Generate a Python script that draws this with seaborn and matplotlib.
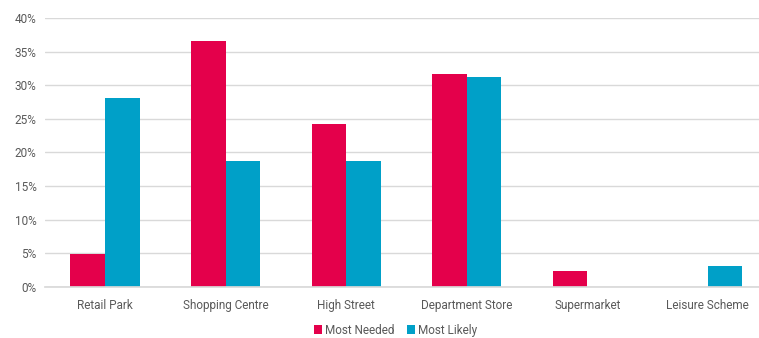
import matplotlib
matplotlib.use('Agg')
import matplotlib.pyplot as plt
import pandas as pd
import seaborn as sns
from matplotlib.ticker import FuncFormatter

categories = ['Retail Park', 'Shopping Centre', 'High Street', 'Department Store', 'Supermarket', 'Leisure Scheme']
most_needed = [4.9, 36.6, 24.3, 31.7, 2.4, 0.0]
most_likely = [28.1, 18.7, 18.7, 31.2, 0.0, 3.1]
series_names = ['Most Needed', 'Most Likely']
palette = ['#E4004B', '#00A0C8']

df = pd.DataFrame({
    'category': categories * 2,
    'series': [series_names[0]] * len(categories) + [series_names[1]] * len(categories),
    'value': most_needed + most_likely,
})

sns.set_theme(style='white')
plt.rcParams['font.family'] = ['Roboto', 'DejaVu Sans']
text_color = '#595959'

fig = plt.figure(figsize=(7.59, 3.38), dpi=100)
ax = fig.add_axes([0.059, 0.151, 0.953, 0.796])

sns.barplot(data=df, x='category', y='value', hue='series', palette=palette,
            width=0.575, ax=ax, saturation=1, legend=True, linewidth=0)

ax.set_ylim(0, 40)
ax.set_yticks(range(0, 41, 5))
ax.yaxis.set_major_formatter(FuncFormatter(lambda v, p: f'{int(v)}%'))
ax.grid(axis='y', color='#d9d9d9', linewidth=1)
ax.set_axisbelow(True)
for s in ['top', 'right', 'left']:
    ax.spines[s].set_visible(False)
ax.spines['bottom'].set_color('#d9d9d9')
ax.tick_params(axis='both', length=0, labelsize=8.5, colors=text_color, pad=6)
ax.tick_params(axis='x', pad=9)
ax.set_xlabel('')
ax.set_ylabel('')
ax.set_xlim(-0.5, len(categories) - 0.5)

ax.legend(loc='center', bbox_to_anchor=(0.485, -0.16), ncol=2, frameon=False,
          fontsize=8.5, handlelength=0.7, handleheight=0.7, handletextpad=0.3,
          columnspacing=1.0, labelcolor=text_color)

fig.savefig('out.png', dpi=100)
